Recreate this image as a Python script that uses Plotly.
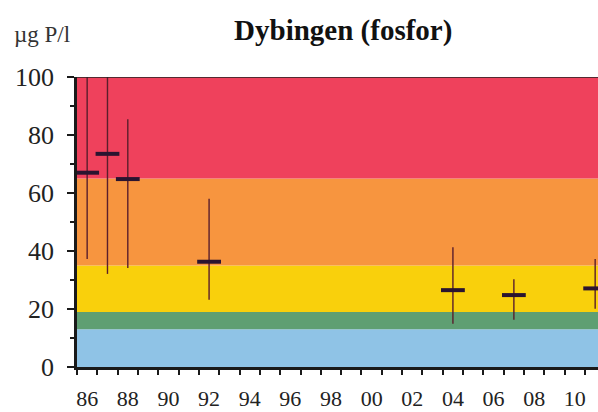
import plotly.graph_objects as go

# Total phosphorus in Dybingen, µg P/l: yearly mean with min/max range
years = [1986, 1987, 1988, 1992, 2004, 2007, 2011]
mean_p = [67.0, 73.5, 64.8, 36.3, 26.5, 24.8, 27.1]
max_p = [100.0, 100.0, 85.4, 58.0, 41.3, 30.3, 37.2]
min_p = [37.2, 32.1, 34.1, 23.2, 14.9, 16.3, 20.1]

# Condition classes (lower, upper, colour) drawn as horizontal bands
band_lower = [0, 13, 19, 35, 65]
band_upper = [13, 19, 35, 65, 100]
band_colors = ["#8fc3e6", "#5f9f72", "#f9d00c", "#f7953f", "#ef415c"]

# Year axis: every year ticked, even years labelled in the middle of their bin
label_years = list(range(1986, 2011, 2))
label_text = [str(y)[-2:] for y in label_years]

x_centre = [y + 0.5 for y in years]
err_plus = [hi - m for hi, m in zip(max_p, mean_p)]
err_minus = [m - lo for lo, m in zip(min_p, mean_p)]

fig = go.Figure()

for lo, hi, col in zip(band_lower, band_upper, band_colors):
    fig.add_shape(type="rect", xref="paper", yref="y", x0=0, x1=1, y0=lo, y1=hi,
                  fillcolor=col, line_width=0, layer="below")

fig.add_trace(go.Scatter(
    x=x_centre, y=mean_p, mode="markers",
    marker=dict(symbol="line-ew", size=17, color="#2a1430",
                line=dict(width=4, color="#2a1430")),
    error_y=dict(type="data", symmetric=False, array=err_plus, arrayminus=err_minus,
                 color="#5a1e2c", thickness=1.4, width=0),
    cliponaxis=True, showlegend=False,
))

# Top border of the plotting area
fig.add_shape(type="line", xref="paper", yref="y", x0=0, x1=1, y0=100, y1=100,
              line=dict(color="#222", width=1.5))

serif = "Liberation Serif, Times New Roman, serif"

fig.update_layout(
    width=598, height=412,
    margin=dict(l=77, r=0, t=77, b=45, autoexpand=False),
    paper_bgcolor="white", plot_bgcolor="white",
    font=dict(family=serif, color="#222"),
    title=dict(text="<b>Dybingen (fosfor)</b>", x=0.574, xanchor="center",
               y=0.927, yanchor="middle", font=dict(family=serif, size=29, color="#111")),
    xaxis=dict(
        range=[1986, 2011.64], showgrid=False, zeroline=False, automargin=False,
        showline=True, linecolor="#1a1a1a", linewidth=2.5,
        tickmode="array", tickvals=[y + 0.5 for y in label_years], ticktext=label_text,
        ticks="", ticklabelstandoff=10,
        tickfont=dict(family=serif, size=22, color="#222"),
        minor=dict(tickmode="array", tickvals=list(range(1986, 2012)),
                   ticks="outside", ticklen=5, tickwidth=2, tickcolor="#1a1a1a"),
    ),
    yaxis=dict(
        range=[0, 100], showgrid=False, zeroline=False, automargin=False,
        showline=True, linecolor="#1a1a1a", linewidth=2.5,
        tickvals=[0, 20, 40, 60, 80, 100], ticks="outside", ticklen=7, tickwidth=2,
        tickcolor="#1a1a1a", ticklabelstandoff=8,
        tickfont=dict(family=serif, size=26, color="#222"),
        minor=dict(dtick=10, ticks="outside", ticklen=4, tickwidth=2, tickcolor="#1a1a1a"),
    ),
    annotations=[dict(text="µg P/l", xref="paper", yref="paper", x=-0.067, y=1.148,
                      xanchor="center", yanchor="middle", showarrow=False,
                      font=dict(family=serif, size=23, color="#333"))],
)

fig.write_html("out.html")
